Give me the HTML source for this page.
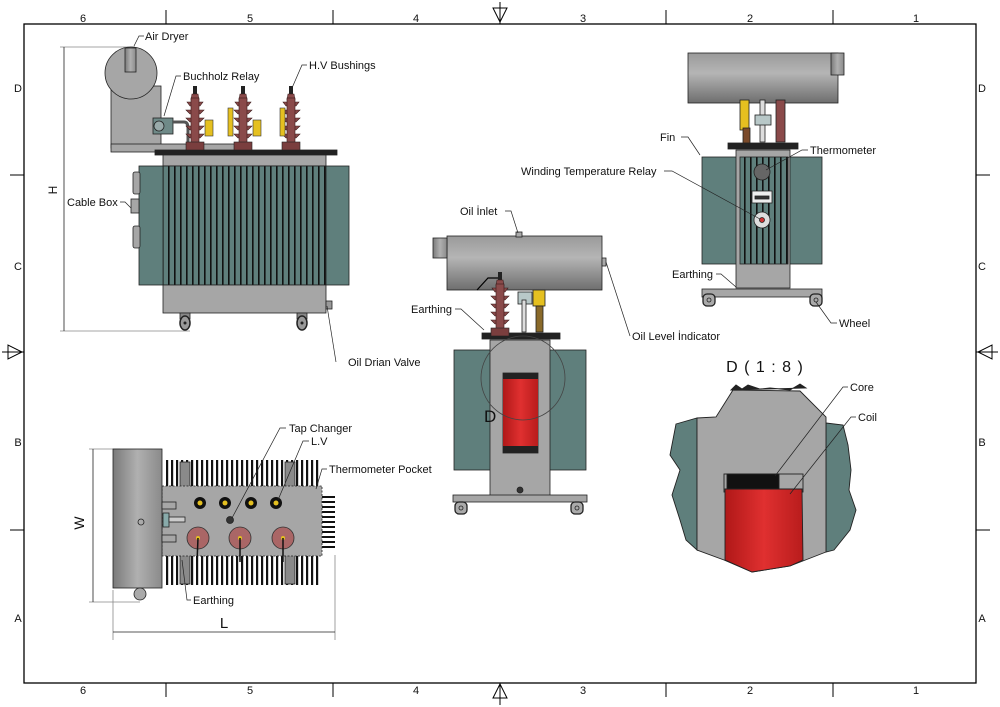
<!DOCTYPE html>
<html><head><meta charset="utf-8"><style>html,body{margin:0;padding:0;background:#fff}svg{display:block}text{font-family:"Liberation Sans",sans-serif;fill:#111}</style></head>
<body>
<svg width="1000" height="707" viewBox="0 0 1000 707" xmlns="http://www.w3.org/2000/svg">
<defs>
<pattern id="finV" width="6" height="10" patternUnits="userSpaceOnUse"><rect width="6" height="10" fill="#5f7f7c"/><rect x="0" width="1.6" height="10" fill="#111"/></pattern>
<pattern id="finV5" width="5" height="10" patternUnits="userSpaceOnUse"><rect width="5" height="10" fill="#fff"/><rect x="1" width="2.2" height="10" fill="#111"/></pattern>
<pattern id="finH" width="10" height="5" patternUnits="userSpaceOnUse"><rect width="10" height="5" fill="#fff"/><rect y="1" width="10" height="2" fill="#111"/></pattern>
<linearGradient id="cyl" x1="0" y1="0" x2="0" y2="1"><stop offset="0" stop-color="#9a9a9a"/><stop offset="0.4" stop-color="#b5b5b5"/><stop offset="1" stop-color="#6e6e6e"/></linearGradient>
<linearGradient id="cylH" x1="0" y1="0" x2="1" y2="0"><stop offset="0" stop-color="#7a7a7a"/><stop offset="0.5" stop-color="#b0b0b0"/><stop offset="1" stop-color="#8a8a8a"/></linearGradient>
<linearGradient id="red" x1="0" y1="0" x2="1" y2="0"><stop offset="0" stop-color="#b01818"/><stop offset="0.5" stop-color="#e03030"/><stop offset="1" stop-color="#b81c1c"/></linearGradient>
<g id="bush"><rect x="-2" y="0" width="4" height="8" fill="#222"/>
<path d="M-3 8 L3 8 L4 14 L-4 14Z M-8 16 L8 16 L5 20 L-5 20Z M-9 24 L9 24 L5 28 L-5 28Z M-9 32 L9 32 L5 36 L-5 36Z M-9 40 L9 40 L5 44 L-5 44Z M-9 48 L9 48 L5 52 L-5 52Z" fill="#8a4a4a" stroke="#3a1a1a" stroke-width="0.6"/>
<rect x="-4" y="12" width="8" height="46" fill="#8a4a4a" stroke="#3a1a1a" stroke-width="0.6"/><rect x="-9" y="56" width="18" height="8" fill="#7a3e3e" stroke="#222" stroke-width="0.6"/></g>
<g id="wheel"><rect x="-5" y="0" width="10" height="6" fill="#888" stroke="#222" stroke-width="0.8"/><ellipse cx="0" cy="10" rx="5" ry="7" fill="#999" stroke="#222" stroke-width="1.5"/><circle cx="0" cy="10" r="1.5" fill="#222"/></g>
<g id="wheelS"><rect x="-6" y="-2" width="12" height="12" rx="4" fill="#aaa" stroke="#222" stroke-width="1.3"/><circle cx="0" cy="4" r="2" fill="none" stroke="#222" stroke-width="0.8"/></g>
</defs>
<rect width="1000" height="707" fill="#fff"/>
<rect x="24" y="24" width="952" height="659" fill="none" stroke="#000" stroke-width="1.3"/>
<g stroke="#000" stroke-width="1">
<line x1="166" y1="10" x2="166" y2="24"/><line x1="333" y1="10" x2="333" y2="24"/><line x1="666" y1="10" x2="666" y2="24"/><line x1="833" y1="10" x2="833" y2="24"/>
<line x1="166" y1="683" x2="166" y2="697"/><line x1="333" y1="683" x2="333" y2="697"/><line x1="666" y1="683" x2="666" y2="697"/><line x1="833" y1="683" x2="833" y2="697"/>
<line x1="10" y1="175" x2="24" y2="175"/><line x1="10" y1="530" x2="24" y2="530"/><line x1="976" y1="175" x2="990" y2="175"/><line x1="976" y1="530" x2="990" y2="530"/>
<line x1="500" y1="2" x2="500" y2="24"/><path d="M493 8 L507 8 L500 22Z" fill="none"/>
<line x1="500" y1="683" x2="500" y2="705"/><path d="M493 698 L507 698 L500 684Z" fill="none"/>
<line x1="2" y1="352" x2="24" y2="352"/><path d="M8 345 L8 359 L22 352Z" fill="none"/>
<line x1="976" y1="352" x2="998" y2="352"/><path d="M992 345 L992 359 L978 352Z" fill="none"/>
</g>
<g font-size="11" text-anchor="middle">
<text x="83" y="22">6</text><text x="250" y="22">5</text><text x="416" y="22">4</text><text x="583" y="22">3</text><text x="750" y="22">2</text><text x="916" y="22">1</text>
<text x="83" y="694">6</text><text x="250" y="694">5</text><text x="416" y="694">4</text><text x="583" y="694">3</text><text x="750" y="694">2</text><text x="916" y="694">1</text>
<text x="18" y="92">D</text><text x="18" y="270">C</text><text x="18" y="446">B</text><text x="18" y="622">A</text>
<text x="982" y="92">D</text><text x="982" y="270">C</text><text x="982" y="446">B</text><text x="982" y="622">A</text>
</g>

<g stroke="#222" stroke-width="0.8">
<line x1="60" y1="47" x2="135" y2="47" stroke="#888"/><line x1="60" y1="331" x2="190" y2="331" stroke="#888"/>
<line x1="64" y1="47" x2="64" y2="331" stroke="#222"/>
<rect x="111" y="86" width="50" height="62" fill="#a6a6a6"/>
<circle cx="131" cy="73" r="26" fill="#a6a6a6"/>
<rect x="125" y="48" width="11" height="24" fill="url(#cylH)"/>
<rect x="111" y="144" width="140" height="8" fill="#a6a6a6"/>
<rect x="153" y="118" width="20" height="16" fill="#6f8a88"/><circle cx="159" cy="126" r="5" fill="#9aa"/>
<path d="M173 122 H184 Q188 122 188 128 V148" fill="none" stroke="#555" stroke-width="3"/>
<rect x="155" y="150" width="182" height="5" fill="#222"/>
<rect x="163" y="155" width="163" height="11" fill="#a6a6a6"/>
<rect x="139" y="166" width="210" height="119" fill="#5f7f7c"/>
<rect x="163" y="166" width="163" height="119" fill="url(#finV)"/>
<rect x="163" y="285" width="163" height="28" fill="#a6a6a6"/>
<rect x="133" y="172" width="7" height="22" rx="2" fill="#a6a6a6"/><rect x="131" y="199" width="8" height="14" fill="#a6a6a6"/><rect x="133" y="226" width="7" height="22" rx="2" fill="#a6a6a6"/>
<rect x="326" y="301" width="6" height="8" fill="#999"/>
</g>
<use href="#bush" x="195" y="86"/><use href="#bush" x="243" y="86"/><use href="#bush" x="291" y="86"/>
<g fill="#e5c020" stroke="#333" stroke-width="0.6"><rect x="205" y="120" width="8" height="16"/><rect x="228" y="108" width="5" height="28"/><rect x="253" y="120" width="8" height="16"/><rect x="280" y="108" width="5" height="28"/></g>
<use href="#wheel" x="185" y="313"/><use href="#wheel" x="302" y="313"/>
<text x="57" y="190" font-size="12" transform="rotate(-90 57 190)" text-anchor="middle">H</text>

<g stroke="#222" stroke-width="0.8">
<rect x="454" y="350" width="132" height="120" fill="#5f7f7c"/>
<rect x="490" y="340" width="60" height="157" fill="#a6a6a6"/>
<rect x="503" y="373" width="35" height="80" fill="#222"/>
<rect x="503" y="379" width="35" height="67" fill="url(#red)" stroke="none"/>
<rect x="482" y="333" width="78" height="6" fill="#222"/>
<rect x="447" y="236" width="155" height="54" fill="url(#cyl)"/>
<rect x="433" y="238" width="14" height="20" fill="url(#cylH)"/>
<rect x="516" y="232" width="6" height="5" fill="#aaa"/>
<rect x="602" y="258" width="4" height="8" fill="#aaa"/>
<rect x="453" y="495" width="134" height="7" fill="#a6a6a6"/>
<circle cx="520" cy="490" r="3" fill="#333"/>
<rect x="518" y="292" width="14" height="12" fill="#b8c8c8"/><rect x="522" y="300" width="4" height="32" fill="#ddd"/>
<rect x="533" y="290" width="12" height="16" fill="#e5c020"/><rect x="536" y="306" width="7" height="26" fill="#8a6a2a"/>
<circle cx="523" cy="378" r="42" fill="none" stroke="#444"/>
</g>
<g stroke="#000" fill="none" stroke-width="1.2"><path d="M477 290 L488 278 L500 278"/></g>
<use href="#bush" x="500" y="272"/>
<text x="484" y="422" font-size="17">D</text>
<use href="#wheelS" x="461" y="504"/><use href="#wheelS" x="577" y="504"/>

<g stroke="#222" stroke-width="0.8">
<rect x="702" y="157" width="120" height="107" fill="#5f7f7c"/>
<rect x="736" y="150" width="54" height="138" fill="#a6a6a6"/>
<rect x="740" y="157" width="48" height="107" fill="url(#finV)"/>
<rect x="728" y="143" width="70" height="6" fill="#222"/>
<rect x="688" y="53" width="150" height="50" fill="url(#cyl)"/>
<rect x="831" y="53" width="13" height="22" fill="url(#cylH)"/>
<rect x="740" y="100" width="9" height="30" fill="#e5c020"/><rect x="743" y="128" width="7" height="15" fill="#7a4a2a"/>
<rect x="760" y="100" width="5" height="42" fill="#ddd"/><rect x="755" y="115" width="16" height="10" fill="#b8c8c8"/>
<rect x="776" y="100" width="9" height="42" fill="#8a4a4a"/>
<rect x="702" y="289" width="120" height="8" fill="#a6a6a6"/>
<circle cx="762" cy="172" r="8" fill="#666"/>
<rect x="752" y="191" width="20" height="12" fill="#eee"/><rect x="755" y="196" width="14" height="3" fill="#333"/>
<circle cx="762" cy="220" r="8" fill="#ddd"/><circle cx="762" cy="220" r="2.5" fill="#c33"/>
</g>
<use href="#wheelS" x="709" y="296"/><use href="#wheelS" x="816" y="296"/>

<text x="765" y="372" font-size="16" text-anchor="middle" letter-spacing="1">D ( 1 : 8 )</text>
<g stroke="#222" stroke-width="0.9">
<path d="M676 424 L697 418 L697 550 L686 540 L680 520 L672 495 L680 470 L670 455 Z" fill="#5f7f7c"/>
<path d="M826 423 L843 425 L848 445 L851 470 L849 490 L856 510 L850 530 L834 550 L826 552 Z" fill="#5f7f7c"/>
<path d="M697 418 L716 417 L733 390 L800 391 L826 417 L826 552 L790 566 L752 572 L724 560 L697 550 Z" fill="#a6a6a6"/>
<path d="M731 390 L736 385 L742 389 L748 385 L760 389 L770 388 L790 390 L800 384 L806 388 Z" fill="#222"/>
<rect x="724" y="474" width="79" height="18" fill="#a6a6a6"/>
<rect x="727" y="474" width="52" height="17" fill="#111"/>
<path d="M725 489 L802 489 L803 560 L790 566 L752 572 L725 560 Z" fill="url(#red)"/>
</g>

<g stroke="#222" stroke-width="0.8">
<line x1="89" y1="449" x2="120" y2="449" stroke="#888"/><line x1="89" y1="602" x2="140" y2="602" stroke="#888"/>
<line x1="93" y1="449" x2="93" y2="602"/>
<line x1="113" y1="590" x2="113" y2="640" stroke="#888"/><line x1="335" y1="555" x2="335" y2="640" stroke="#888"/>
<line x1="113" y1="632" x2="335" y2="632"/>
<rect x="165" y="460" width="155" height="26" fill="url(#finV5)" stroke="none"/>
<rect x="165" y="556" width="155" height="29" fill="url(#finV5)" stroke="none"/>
<rect x="322" y="493" width="13" height="58" fill="url(#finH)" stroke="none"/>
<rect x="180" y="462" width="10" height="122" fill="#8a8a8a"/><rect x="285" y="462" width="10" height="122" fill="#8a8a8a"/>
<rect x="162" y="486" width="160" height="70" fill="#a6a6a6" stroke-dasharray="2 1.5"/>
<rect x="113" y="449" width="49" height="139" fill="url(#cylH)"/>
<circle cx="141" cy="522" r="3" fill="none"/>
<circle cx="140" cy="594" r="6" fill="#aaa"/>
<rect x="162" y="502" width="14" height="7" fill="#a6a6a6"/><rect x="162" y="535" width="14" height="7" fill="#a6a6a6"/>
<rect x="163" y="513" width="6" height="14" fill="#8aa"/><rect x="169" y="517" width="16" height="5" fill="#ccc"/>
<circle cx="230" cy="520" r="3.5" fill="#333"/>
</g>
<g fill="#111"><circle cx="200" cy="503" r="6"/><circle cx="225" cy="503" r="6"/><circle cx="251" cy="503" r="6"/><circle cx="276" cy="503" r="6"/></g>
<g fill="#e5c020"><circle cx="200" cy="503" r="2.5"/><circle cx="225" cy="503" r="2.5"/><circle cx="251" cy="503" r="2.5"/><circle cx="276" cy="503" r="2.5"/></g>
<g fill="#a66" stroke="#333" stroke-width="0.8"><circle cx="198" cy="538" r="11"/><circle cx="240" cy="538" r="11"/><circle cx="283" cy="538" r="11"/></g>
<g fill="#e5c020"><circle cx="198" cy="538" r="2"/><circle cx="240" cy="538" r="2"/><circle cx="283" cy="538" r="2"/></g>
<g stroke="#111" stroke-width="1.5"><line x1="198" y1="538" x2="197" y2="562"/><line x1="240" y1="538" x2="240" y2="562"/><line x1="283" y1="538" x2="283" y2="562"/></g>
<text x="84" y="523" font-size="14" transform="rotate(-90 84 523)" text-anchor="middle">W</text>
<text x="224" y="628" font-size="15" text-anchor="middle">L</text>

<g stroke="#222" stroke-width="0.7" fill="none">
<path d="M144 36 H139 L134 46"/>
<path d="M181 76 H176 L164 116"/>
<path d="M307 65 H302 L292 88"/>
<path d="M120 202 H125 L131 208"/>
<path d="M336 362 L327 306"/>
<path d="M505 211 H511 L518 233"/>
<path d="M455 309 H461 L484 330"/>
<path d="M630 336 L606 262"/>
<path d="M286 428 H280 L232 518"/>
<path d="M309 441 H303 L278 500"/>
<path d="M327 469 H322 L316 489"/>
<path d="M191 600 H187 L182 560"/>
<path d="M681 137 H688 L700 155"/>
<path d="M808 150 H802 L766 170"/>
<path d="M664 171 H672 L760 219"/>
<path d="M716 274 H721 L736 287"/>
<path d="M837 323 H831 L816 302"/>
<path d="M848 387 H843 L775 476"/>
<path d="M856 417 H851 L790 494"/>
</g>
<g font-size="11">
<text x="145" y="40">Air Dryer</text>
<text x="183" y="80">Buchholz Relay</text>
<text x="309" y="69">H.V Bushings</text>
<text x="67" y="206">Cable Box</text>
<text x="348" y="366">Oil Drian Valve</text>
<text x="460" y="215">Oil İnlet</text>
<text x="411" y="313">Earthing</text>
<text x="632" y="340">Oil Level İndicator</text>
<text x="289" y="432">Tap Changer</text>
<text x="311" y="445">L.V</text>
<text x="329" y="473">Thermometer Pocket</text>
<text x="193" y="604">Earthing</text>
<text x="660" y="141">Fin</text>
<text x="810" y="154">Thermometer</text>
<text x="521" y="175">Winding Temperature Relay</text>
<text x="672" y="278">Earthing</text>
<text x="839" y="327">Wheel</text>
<text x="850" y="391">Core</text>
<text x="858" y="421">Coil</text>
</g>
</svg>
</body></html>
